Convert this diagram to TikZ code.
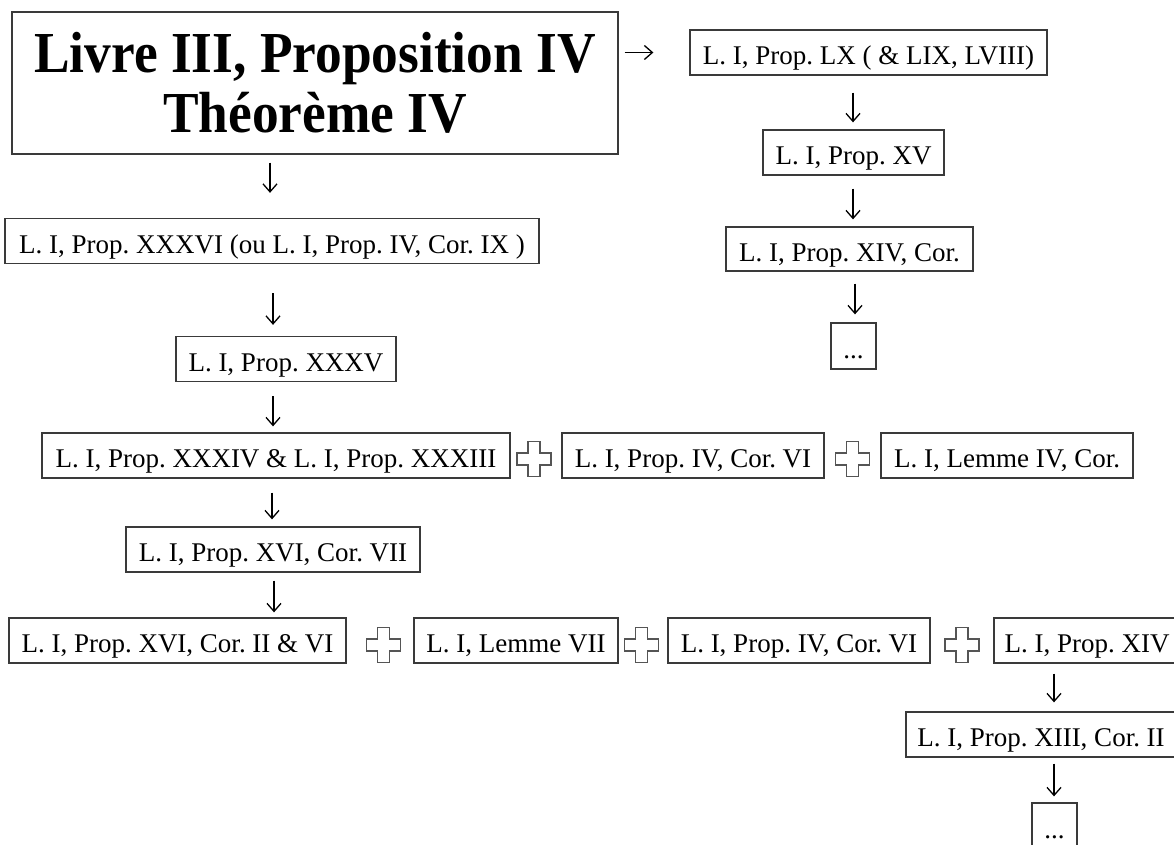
\documentclass[tikz,border=0pt]{standalone}
\usepackage{fontspec}
\setmainfont{Liberation Serif}
\newfontfamily\titlefont{Liberation Serif}[FakeStretch=0.92]
\usetikzlibrary{arrows.meta}
\definecolor{boxline}{HTML}{3A3A3A}
\definecolor{plusline}{HTML}{555555}
\frenchspacing
\tikzset{
  refbox/.style={draw=boxline, line width=1.3pt, inner sep=0pt,
    minimum height=45pt, text height=24pt, text depth=0pt,
    font=\fontsize{27}{30}\selectfont\frenchspacing, text=black},
  titlebox/.style={draw=boxline, line width=1.3pt, inner sep=0pt,
    align=center, font=\titlefont\bfseries\fontsize{58}{60}\selectfont},
  arr/.style={line width=1.3pt, -{Straight Barb[length=8pt,width=14pt]}},
  plusshape/.pic={
    \draw[plusline, line width=1.4pt, fill=white]
      (-6,-17.5) -- (6,-17.5) -- (6,-6) -- (17,-6) -- (17,6) -- (6,6)
      -- (6,17.5) -- (-6,17.5) -- (-6,6) -- (-17,6) -- (-17,-6) -- (-6,-6) -- cycle;
  }
}
\begin{document}
\begin{tikzpicture}[x=1pt,y=-1pt]
\useasboundingbox[fill=white] (0,0) rectangle (1174,845);

% left column
\node[titlebox, minimum width=606pt, minimum height=142pt] (title) at (315,83)
  {Livre III, Proposition IV\\Théorème IV};
\node[refbox, minimum width=534pt] (xxxvi) at (272,241)
  {L. I, Prop. XXXVI (ou L. I, Prop. IV, Cor. IX )};
\node[refbox, minimum width=220pt] (xxxv) at (286,359) {L. I, Prop. XXXV};
\node[refbox, minimum width=468pt] (xxxiv) at (276,455.5)
  {L. I, Prop. XXXIV \& L. I, Prop. XXXIII};
\node[refbox, minimum width=262pt] (ivcorA) at (693,455.5) {L. I, Prop. IV, Cor. VI};
\node[refbox, minimum width=252pt] (lemmeIV) at (1007,455.5) {L. I, Lemme IV, Cor.};
\node[refbox, minimum width=294pt] (xvicorVII) at (273,549.5) {L. I, Prop. XVI, Cor. VII};
\node[refbox, minimum width=337pt] (xvicorII) at (177.5,640.5) {L. I, Prop. XVI, Cor. II \& VI};
\node[refbox, minimum width=204pt] (lemmeVII) at (516,640.5) {L. I, Lemme VII};
\node[refbox, minimum width=262pt] (ivcorB) at (799,640.5) {L. I, Prop. IV, Cor. VI};
\node[refbox, minimum width=186pt] (xiv) at (1087,640.5) {L. I, Prop. XIV};
\node[refbox, minimum width=270pt] (xiii) at (1041,734.5) {L. I, Prop. XIII, Cor. II};
\node[refbox, minimum width=45pt, minimum height=46pt] (dotsB) at (1054.5,826) {...};

% right column
\node[refbox, minimum width=357pt] (lx) at (868.5,52.5) {L. I, Prop. LX ( \& LIX, LVIII)};
\node[refbox, minimum width=181pt] (xv) at (853.5,152.5) {L. I, Prop. XV};
\node[refbox, minimum width=247pt, minimum height=44pt] (xivcor) at (849.5,249) {L. I, Prop. XIV, Cor.};
\node[refbox, minimum width=45pt, minimum height=46pt] (dotsA) at (853.5,346) {...};

% column coordinates for arrows
\coordinate (cA) at (270,0);
\coordinate (cB) at (273,0);
\coordinate (cC) at (272,0);
\coordinate (cD) at (274,0);
\coordinate (cE) at (853,0);
\coordinate (cF) at (855,0);
\coordinate (cG) at (1054,0);

% plus signs
\pic at (534,459) {plusshape};
\pic at (852.5,459) {plusshape};
\pic at (383.5,645) {plusshape};
\pic at (641.5,645) {plusshape};
\pic at (962,645) {plusshape};

% arrows
\draw[arr, shorten <=6pt, shorten >=36pt] (title.north east |- lx.west) -- (lx.west);
\draw[arr, shorten <=8pt, shorten >=25pt] (title.south -| cA) -- (xxxvi.north -| cA);
\draw[arr, shorten <=29pt, shorten >=11pt] (xxxvi.south -| cB) -- (xxxv.north -| cB);
\draw[arr, shorten <=14pt, shorten >=6pt] (xxxv.south -| cB) -- (xxxiv.north -| cB);
\draw[arr, shorten <=14pt, shorten >=7pt] (xxxiv.south -| cC) -- (xvicorVII.north -| cC);
\draw[arr, shorten <=8pt, shorten >=5pt] (xvicorVII.south -| cD) -- (xvicorII.north -| cD);
\draw[arr, shorten <=17pt, shorten >=7pt] (lx.south -| cE) -- (xv.north -| cE);
\draw[arr, shorten <=13pt, shorten >=7pt] (xv.south -| cE) -- (xivcor.north -| cE);
\draw[arr, shorten <=12pt, shorten >=8pt] (xivcor.south -| cF) -- (dotsA.north -| cF);
\draw[arr, shorten <=10pt, shorten >=9pt] (xiv.south -| cG) -- (xiii.north -| cG);
\draw[arr, shorten <=6pt, shorten >=6pt] (xiii.south -| cG) -- (dotsB.north -| cG);
\end{tikzpicture}
\end{document}
